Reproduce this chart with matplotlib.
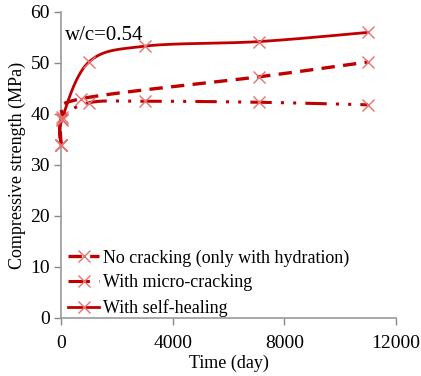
import matplotlib
matplotlib.use("Agg")
import matplotlib.pyplot as plt
import numpy as np

plt.rcParams['font.family'] = ['Liberation Serif', 'DejaVu Serif']

# data (days, MPa)
t_none = [0, 28, 730, 7100, 11000]
s_none = [34.0, 39.5, 43.0, 47.3, 50.2]

t_micro = [0, 28, 1000, 3000, 7100, 11000]
s_micro = [34.0, 39.0, 42.2, 42.5, 42.3, 41.8]

t_heal = [0, 28, 1000, 3000, 7100, 11000]
s_heal = [34.0, 38.8, 50.2, 53.3, 54.2, 56.0]

labels = ['No cracking (only with hydration)', 'With micro-cracking', 'With self-healing']

XMAX, YMAX = 12000, 60
line_col = '#C00000'
mark_col = '#E8706E'


def smooth(x, y, n=40):
    # Excel-like smoothed line: cubic Bezier through points, tangents in axis-fraction space
    px = np.asarray(x, float) / XMAX
    py = np.asarray(y, float) / YMAX
    P = np.column_stack([px, py])
    out = []
    for i in range(len(P) - 1):
        p0 = P[i - 1] if i > 0 else P[i]
        p1, p2 = P[i], P[i + 1]
        p3 = P[i + 2] if i + 2 < len(P) else P[i + 1]
        c1 = p1 + (p2 - p0) / 6
        c2 = p2 - (p3 - p1) / 6
        t = np.linspace(0, 1, n)[:, None]
        seg = ((1 - t) ** 3) * p1 + 3 * ((1 - t) ** 2) * t * c1 + 3 * (1 - t) * t ** 2 * c2 + t ** 3 * p2
        out.append(seg)
    c = np.vstack(out)
    return c[:, 0] * XMAX, c[:, 1] * YMAX


fig = plt.figure(figsize=(4.21, 3.76), dpi=100)
ax = fig.add_axes([0.1449, 0.1543, 0.7957, 0.8138])

styles = [
    dict(ls=(0, (4, 2.5)), lw=2.4),
    dict(ls=(0, (7, 3, 1, 3, 1, 3)), lw=2.2),
    dict(ls='-', lw=2.0),
]
series = [(t_none, s_none), (t_micro, s_micro), (t_heal, s_heal)]

handles = []
for (t, s), st, lab in zip(series, styles, labels):
    sx, sy = smooth(t, s)
    ax.plot(sx, sy, color=line_col, linestyle=st['ls'], lw=st['lw'], zorder=3, clip_on=False)
    ax.plot(t, s, linestyle='none', marker='x', ms=9, mew=1.0, color=mark_col, zorder=4, clip_on=False)
    h, = ax.plot([], [], color=line_col, linestyle=st['ls'], lw=st['lw'],
                 marker='x', ms=9, mew=1.0, mec=mark_col)
    handles.append(h)

ax.set_xlim(0, XMAX)
ax.set_ylim(0, YMAX)
ax.set_xticks([0, 4000, 8000, 12000])
ax.set_yticks(range(0, 61, 10))
ax.tick_params(labelsize=14, color='#888888', length=5, width=1, pad=3)
ax.tick_params(axis='x', pad=7)
for sp in ['top', 'right']:
    ax.spines[sp].set_visible(False)
for sp in ['left', 'bottom']:
    ax.spines[sp].set_color('#999999')
    ax.spines[sp].set_linewidth(1.2)

ax.set_xlabel('Time (day)', fontsize=13, labelpad=2)
ax.set_ylabel('Compressive strength (MPa)', fontsize=13, labelpad=3)

ax.text(0.013, 0.955, 'w/c=0.54', transform=ax.transAxes, fontsize=15, va='top', ha='left')

ax.legend(handles, labels, loc='lower left', bbox_to_anchor=(0.0, -0.02), frameon=False,
          fontsize=13, handlelength=1.7, handletextpad=0.2, labelspacing=0.42, borderaxespad=0.0)

fig.savefig('out.png', dpi=100)
